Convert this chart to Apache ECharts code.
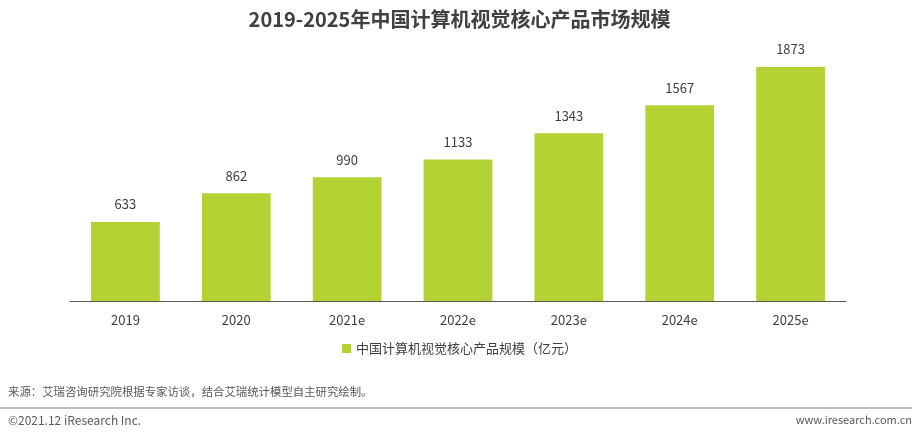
<!DOCTYPE html>
<html><head><meta charset="utf-8">
<script src="https://cdn.jsdelivr.net/npm/echarts@6/dist/echarts.min.js"></script>
<style>html,body{margin:0;padding:0;background:#fff}#c{width:919px;height:439px}</style>
</head><body><div id="c"></div>
<script>
const categories = ['2019','2020','2021e','2022e','2023e','2024e','2025e'];
const values = [633, 862, 990, 1133, 1343, 1567, 1873];
const seriesName = '中国计算机视觉核心产品规模（亿元）';
const titleText = '2019-2025年中国计算机视觉核心产品市场规模';
const sourceText = '来源：艾瑞咨询研究院根据专家访谈，结合艾瑞统计模型自主研究绘制。';
const copyrightText = '©2021.12 iResearch Inc.';
const urlText = 'www.iresearch.com.cn';

const font = '"Microsoft YaHei","Noto Sans CJK SC","Noto Sans",sans-serif';
const chart = echarts.init(document.getElementById('c'), null, {renderer:'canvas'});
chart.setOption({
  animation:false,
  title:{text:titleText,left:'center',top:4,textStyle:{fontFamily:font,fontSize:20,fontWeight:'bold',color:'#404040'}},
  legend:{data:[seriesName],bottom:79,left:'center',itemWidth:9,itemHeight:9,icon:'rect',itemGap:6,
    textStyle:{fontFamily:font,fontSize:13,color:'#404040'}},
  grid:{left:70,right:73,top:51,bottom:138},
  xAxis:{type:'category',data:categories,axisTick:{show:false},
    axisLine:{lineStyle:{color:'#595959',width:1}},
    axisLabel:{fontFamily:font,fontSize:13,color:'#404040',margin:13}},
  yAxis:{type:'value',min:0,max:2000,show:false,splitLine:{show:false}},
  series:[{name:seriesName,type:'bar',data:values,barWidth:'62%',
    itemStyle:{color:'#b3d234'},
    label:{show:true,position:'top',distance:11,fontFamily:font,fontSize:13,color:'#404040'}}],
  graphic:[
    {type:'text',left:8,top:386,style:{text:sourceText,fontFamily:font,fontSize:11.4,fill:'#595959'}},
    {type:'line',shape:{x1:0,y1:408,x2:912,y2:408},style:{stroke:'#7f7f7f',lineWidth:1}},
    {type:'text',left:8,top:414,style:{text:copyrightText,fontFamily:font,fontSize:12,fill:'#595959'}},
    {type:'text',right:7,top:414,style:{text:urlText,fontFamily:font,fontSize:11,fill:'#595959'}}
  ]
});
</script></body></html>
